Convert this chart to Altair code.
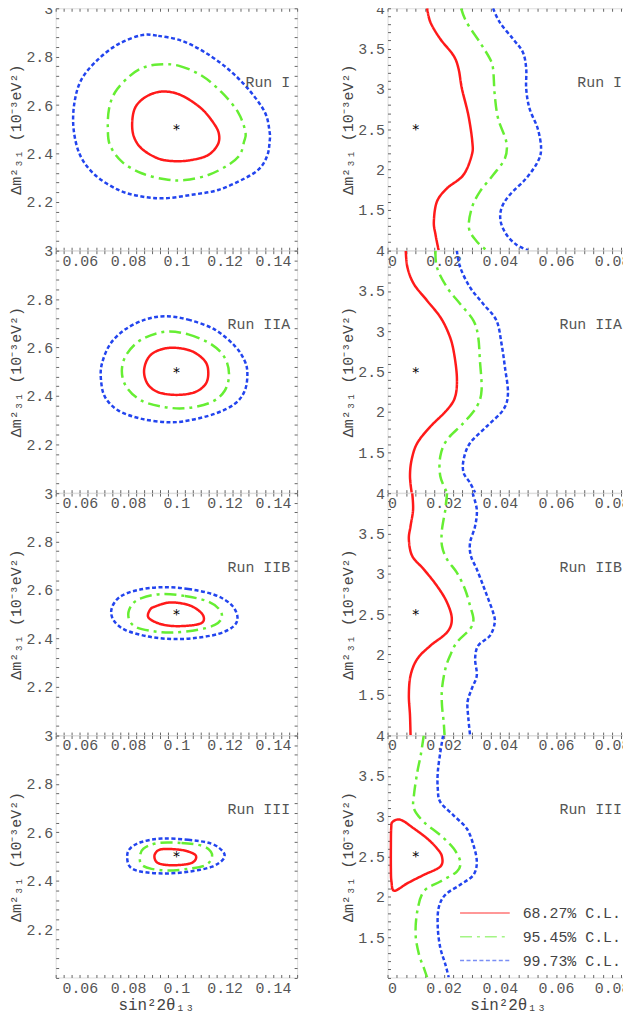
import altair as alt
import pandas as pd

FONT = "Liberation Mono"

CL = ["68.27% C.L.", "95.45% C.L.", "99.73% C.L."]
COLORS = ["#ff1a1a", "#66ee33", "#2244ee"]
DASHES = [[1, 0], [12, 5, 3, 5], [4, 2.5]]
RUNS = ["Run I", "Run IIA", "Run IIB", "Run III"]

BEST_LEFT = [(0.1, 2.5)]
BEST_RIGHT = [(0.01, 2.5)]

# tick values
LX_MAJOR = [0.06, 0.08, 0.10, 0.12, 0.14]
LY_MAJOR = [2.2, 2.4, 2.6, 2.8, 3.0]
RX_MAJOR = [0.0, 0.02, 0.04, 0.06, 0.08]
RY_MAJOR = [1.5, 2.0, 2.5, 3.0, 3.5, 4.0]

# ---- left column: sin^2 2theta13 vs dm^2_31 (closed contours)
L1_RED = [(0.0948, 2.656), (0.1021, 2.640), (0.1104, 2.585), (0.1159, 2.518), (0.1177, 2.475),
          (0.1170, 2.434), (0.1131, 2.393), (0.1063, 2.373), (0.0994, 2.368), (0.0925, 2.379),
          (0.0856, 2.420), (0.0822, 2.475), (0.0818, 2.544), (0.0835, 2.599), (0.0884, 2.640)]
L1_GREEN = [(0.0925, 2.768), (0.1008, 2.763), (0.1104, 2.722), (0.1187, 2.653), (0.1255, 2.571),
            (0.1286, 2.489), (0.1280, 2.448), (0.1262, 2.393), (0.1214, 2.352), (0.1132, 2.311),
            (0.1035, 2.290), (0.0953, 2.293), (0.0856, 2.318), (0.0774, 2.366), (0.0725, 2.434),
            (0.0716, 2.503), (0.0721, 2.585), (0.0746, 2.653), (0.0801, 2.715), (0.0856, 2.752)]
L1_BLUE = [(0.0856, 2.889), (0.0925, 2.886), (0.1021, 2.866), (0.1118, 2.818), (0.1214, 2.749),
           (0.1297, 2.667), (0.1366, 2.571), (0.1386, 2.489), (0.1386, 2.448), (0.1377, 2.393),
           (0.1345, 2.338), (0.1283, 2.297), (0.1173, 2.249), (0.1063, 2.229), (0.0953, 2.215),
           (0.0856, 2.222), (0.0760, 2.249), (0.0663, 2.311), (0.0601, 2.393), (0.0574, 2.503),
           (0.0578, 2.612), (0.0608, 2.708), (0.0677, 2.790), (0.0760, 2.852)]

L2_RED = [(0.0987, 2.599), (0.1063, 2.585), (0.1118, 2.544), (0.1132, 2.497), (0.1121, 2.449),
          (0.1076, 2.415), (0.1001, 2.404), (0.0925, 2.415), (0.0881, 2.449), (0.0866, 2.503),
          (0.0884, 2.558), (0.0925, 2.588)]
L2_GREEN = [(0.0953, 2.665), (0.1049, 2.654), (0.1145, 2.613), (0.1200, 2.558), (0.1218, 2.490),
            (0.1200, 2.421), (0.1145, 2.374), (0.1049, 2.350), (0.0953, 2.353), (0.0856, 2.380),
            (0.0794, 2.435), (0.0774, 2.503), (0.0794, 2.572), (0.0856, 2.633)]
L2_BLUE = [(0.0953, 2.729), (0.1049, 2.715), (0.1159, 2.674), (0.1242, 2.606), (0.1283, 2.544),
           (0.1294, 2.490), (0.1283, 2.421), (0.1242, 2.367), (0.1159, 2.326), (0.1049, 2.298),
           (0.0966, 2.291), (0.0856, 2.305), (0.0760, 2.339), (0.0705, 2.394), (0.0688, 2.462),
           (0.0691, 2.531), (0.0725, 2.613), (0.0787, 2.674), (0.0870, 2.715)]

L3_RED = [(0.0973, 2.548), (0.1049, 2.538), (0.1098, 2.510), (0.1114, 2.483), (0.1102, 2.462),
          (0.1049, 2.452), (0.0980, 2.451), (0.0925, 2.462), (0.0884, 2.486), (0.0890, 2.517),
          (0.0911, 2.531)]
L3_GREEN = [(0.0939, 2.583), (0.1035, 2.575), (0.1132, 2.552), (0.1180, 2.517), (0.1187, 2.483),
            (0.1159, 2.455), (0.1090, 2.435), (0.0994, 2.424), (0.0911, 2.428), (0.0829, 2.448),
            (0.0801, 2.490), (0.0815, 2.538), (0.0856, 2.566)]
L3_BLUE = [(0.0939, 2.611), (0.1049, 2.604), (0.1159, 2.579), (0.1228, 2.538), (0.1253, 2.487),
           (0.1235, 2.448), (0.1173, 2.418), (0.1076, 2.401), (0.0980, 2.397), (0.0884, 2.407),
           (0.0787, 2.435), (0.0739, 2.476), (0.0732, 2.524), (0.0767, 2.572), (0.0842, 2.600)]

L4_RED = [(0.0939, 2.530), (0.1021, 2.527), (0.1074, 2.510), (0.1080, 2.489), (0.1056, 2.471),
          (0.0994, 2.464), (0.0939, 2.468), (0.0914, 2.482), (0.0911, 2.510)]
L4_GREEN = [(0.0925, 2.556), (0.1021, 2.556), (0.1104, 2.545), (0.1143, 2.520), (0.1145, 2.490),
            (0.1118, 2.463), (0.1049, 2.449), (0.0966, 2.442), (0.0897, 2.449), (0.0856, 2.466),
            (0.0849, 2.497), (0.0863, 2.532)]
L4_BLUE = [(0.0939, 2.574), (0.1049, 2.569), (0.1145, 2.553), (0.1194, 2.519), (0.1194, 2.489),
           (0.1145, 2.457), (0.1049, 2.437), (0.0953, 2.430), (0.0856, 2.437), (0.0808, 2.457),
           (0.0796, 2.499), (0.0808, 2.533), (0.0856, 2.560)]

# ---- right column: wide dm^2 range (open contours, top to bottom)
R1_RED = [(0.0141, 4.0), (0.0153, 3.825), (0.0188, 3.619), (0.0235, 3.414), (0.0253, 3.249),
          (0.0265, 3.002), (0.0288, 2.673), (0.0302, 2.344), (0.0300, 2.179), (0.0270, 1.932),
          (0.0212, 1.768), (0.0176, 1.603), (0.0165, 1.356), (0.0171, 1.192), (0.0182, 1.0)]
R1_GREEN = [(0.0262, 4.0), (0.0282, 3.825), (0.0329, 3.578), (0.0365, 3.372), (0.0376, 3.249),
            (0.0382, 2.920), (0.0394, 2.632), (0.0423, 2.344), (0.0418, 2.138), (0.0376, 1.932),
            (0.0329, 1.726), (0.0300, 1.521), (0.0290, 1.274), (0.0318, 1.109), (0.0353, 1.0)]
R1_BLUE = [(0.0376, 4.0), (0.0400, 3.825), (0.0447, 3.619), (0.0482, 3.455), (0.0494, 3.249),
           (0.0494, 3.002), (0.0506, 2.755), (0.0535, 2.508), (0.0547, 2.261), (0.0535, 2.097),
           (0.0494, 1.891), (0.0435, 1.685), (0.0406, 1.521), (0.0403, 1.356), (0.0424, 1.192),
           (0.0459, 1.069), (0.0500, 1.0)]

R2_RED = [(0.0065, 4.0), (0.0071, 3.792), (0.0094, 3.586), (0.0141, 3.381), (0.0188, 3.176),
          (0.0218, 2.970), (0.0235, 2.765), (0.0247, 2.436), (0.0241, 2.190), (0.0212, 2.026),
          (0.0153, 1.820), (0.0106, 1.615), (0.0086, 1.410), (0.0080, 1.204), (0.0086, 1.0)]
R2_GREEN = [(0.0171, 4.0), (0.0176, 3.792), (0.0212, 3.545), (0.0259, 3.340), (0.0306, 3.134),
            (0.0323, 2.929), (0.0329, 2.642), (0.0335, 2.272), (0.0318, 2.067), (0.0270, 1.861),
            (0.0212, 1.656), (0.0188, 1.451), (0.0188, 1.204), (0.0212, 1.0)]
R2_BLUE = [(0.0247, 4.0), (0.0259, 3.792), (0.0294, 3.545), (0.0341, 3.340), (0.0388, 3.134),
           (0.0406, 2.847), (0.0418, 2.559), (0.0429, 2.231), (0.0412, 2.026), (0.0353, 1.820),
           (0.0294, 1.615), (0.0271, 1.410), (0.0271, 1.245), (0.0294, 1.122), (0.0312, 1.0)]

R3_RED = [(0.0088, 4.0), (0.0091, 3.796), (0.0082, 3.591), (0.0076, 3.426), (0.0088, 3.220),
          (0.0129, 3.056), (0.0176, 2.850), (0.0212, 2.644), (0.0229, 2.438), (0.0212, 2.274),
          (0.0153, 2.109), (0.0106, 1.944), (0.0082, 1.739), (0.0076, 1.492), (0.0080, 1.245),
          (0.0082, 1.0)]
R3_GREEN = [(0.0212, 4.0), (0.0206, 3.796), (0.0194, 3.549), (0.0194, 3.344), (0.0212, 3.179),
            (0.0247, 3.014), (0.0276, 2.809), (0.0294, 2.603), (0.0306, 2.438), (0.0294, 2.315),
            (0.0247, 2.150), (0.0223, 1.986), (0.0206, 1.821), (0.0194, 1.574), (0.0194, 1.368),
            (0.0200, 1.163), (0.0203, 1.0)]
R3_BLUE = [(0.0303, 4.0), (0.0318, 3.796), (0.0312, 3.591), (0.0294, 3.385), (0.0297, 3.220),
           (0.0318, 3.056), (0.0341, 2.850), (0.0359, 2.685), (0.0376, 2.521), (0.0382, 2.397),
           (0.0365, 2.233), (0.0323, 2.109), (0.0312, 1.944), (0.0318, 1.739), (0.0300, 1.574),
           (0.0285, 1.410), (0.0288, 1.204), (0.0294, 1.0)]

R4_RED = [(0.0018, 2.930), (0.0047, 2.955), (0.0094, 2.847), (0.0141, 2.724), (0.0176, 2.601),
          (0.0194, 2.498), (0.0188, 2.375), (0.0129, 2.272), (0.0071, 2.169), (0.0024, 2.075),
          (0.0014, 2.190), (0.0012, 2.354), (0.0012, 2.642), (0.0013, 2.847)]
R4_GREEN = [(0.0129, 4.0), (0.0118, 3.751), (0.0106, 3.545), (0.0094, 3.258), (0.0094, 3.093),
            (0.0129, 2.929), (0.0188, 2.765), (0.0235, 2.601), (0.0259, 2.436), (0.0247, 2.313),
            (0.0188, 2.190), (0.0129, 2.067), (0.0106, 1.820), (0.0100, 1.533), (0.0112, 1.286),
            (0.0129, 1.122), (0.0141, 1.0)]
R4_BLUE = [(0.0198, 4.0), (0.0188, 3.792), (0.0179, 3.545), (0.0179, 3.340), (0.0188, 3.176),
           (0.0235, 3.011), (0.0282, 2.847), (0.0306, 2.642), (0.0318, 2.436), (0.0306, 2.272),
           (0.0259, 2.149), (0.0206, 2.026), (0.0182, 1.861), (0.0179, 1.615), (0.0188, 1.368),
           (0.0206, 1.163), (0.0218, 1.0)]

PANELS = [
    ("L", RUNS[0], [L1_RED, L1_GREEN, L1_BLUE], [True, True, True]),
    ("R", RUNS[0], [R1_RED, R1_GREEN, R1_BLUE], [False, False, False]),
    ("L", RUNS[1], [L2_RED, L2_GREEN, L2_BLUE], [True, True, True]),
    ("R", RUNS[1], [R2_RED, R2_GREEN, R2_BLUE], [False, False, False]),
    ("L", RUNS[2], [L3_RED, L3_GREEN, L3_BLUE], [True, True, True]),
    ("R", RUNS[2], [R3_RED, R3_GREEN, R3_BLUE], [False, False, False]),
    ("L", RUNS[3], [L4_RED, L4_GREEN, L4_BLUE], [True, True, True]),
    ("R", RUNS[3], [R4_RED, R4_GREEN, R4_BLUE], [True, False, False]),
]

W, H = 243, 243.5
YTITLE = "Δm²₃₁ (10⁻³eV²)"
XTITLE = "sin²2θ₁₃"
TICK_COLOR = "#666"
LABEL_COLOR = "#555"


def steps(lo, hi, step):
    out, k = [], 0
    while lo + k * step <= hi + 1e-9:
        out.append(round(lo + k * step, 6))
        k += 1
    return out


SPEC = {
    "L": dict(xdom=[0.05, 0.15], ydom=[2.0, 3.0], xt=steps(0.05, 0.15, 0.02 / 6),
              yt=steps(2.0, 3.0, 0.04), xm=50, ym=5, ymin=2.01, best=BEST_LEFT, title_x=101),
    "R": dict(xdom=[0.0, 0.086], ydom=[1.0, 4.0], xt=steps(0.0, 0.086, 0.02 / 6),
              yt=steps(1.0, 4.0, 0.1), xm=50, ym=2, ymin=1.01, best=BEST_RIGHT, title_x=121),
}


def major_expr(mult, fmt, vmin=None):
    cond = f"abs(datum.value*{mult} - round(datum.value*{mult})) < 1e-4"
    if vmin is not None:
        cond += f" && datum.value > {vmin}"
    return f"{cond} ? format(datum.value, '{fmt}') : ''"


def make_panel(side, run, curves, closed, bottom, with_legend):
    s = SPEC[side]
    rows = []
    for k, (pts, c) in enumerate(zip(curves, closed)):
        for i, (x, y) in enumerate(pts):
            rows.append({"x": x, "y": y, "cl": CL[k], "i": i, "closed": c})
    df = pd.DataFrame(rows)

    xs = alt.Scale(domain=s["xdom"], nice=False, zero=False)
    ys = alt.Scale(domain=s["ydom"], nice=False, zero=False)

    x_kw = dict(
        values=s["xt"], labelExpr=major_expr(s["xm"], ".2~f"), orient="bottom",
        offset=-3, tickSize=3, domain=False, grid=False, labelOverlap=False,
        labelFont=FONT, labelFontSize=15, labelColor=LABEL_COLOR, tickColor=TICK_COLOR,
        labelPadding=3, title=XTITLE if bottom else None,
    )
    if bottom:
        x_kw.update(titleFont=FONT, titleFontSize=16, titleFontWeight="normal",
                    titleColor="#444", titleX=s["title_x"], titleY=22.5,
                    titleAlign="center", titleBaseline="top")
    x_axis = alt.Axis(**x_kw)
    y_axis = alt.Axis(
        values=s["yt"], labelExpr=major_expr(s["ym"], ".1~f", s["ymin"]), orient="left",
        offset=-3, tickSize=3, domain=False, grid=False, labelOverlap=False,
        labelFont=FONT, labelFontSize=15, labelColor=LABEL_COLOR, tickColor=TICK_COLOR,
        labelPadding=3, title=YTITLE, titleFont=FONT, titleFontSize=15,
        titleFontWeight="normal", titleColor="#444", titlePadding=2,
    )
    x_axis2 = alt.Axis(values=s["xt"], orient="top", labels=False, title=None, offset=-3,
                       tickSize=3, domain=False, grid=False, tickColor=TICK_COLOR)
    y_axis2 = alt.Axis(values=s["yt"], orient="right", labels=False, title=None, offset=-3,
                       tickSize=3, domain=False, grid=False, tickColor=TICK_COLOR)

    if with_legend:
        leg = alt.Legend(orient="none", legendX=72, legendY=171, title=None,
                         symbolType="stroke", symbolSize=2500, symbolStrokeWidth=1.5,
                         symbolOpacity=0.6, labelFont=FONT, labelFontSize=15,
                         labelColor="#444", labelOffset=12, clipHeight=15,
                         rowPadding=8, padding=0)
    else:
        leg = None
    color = alt.Color("cl:N", scale=alt.Scale(domain=CL, range=COLORS), legend=leg)
    dash = alt.StrokeDash("cl:N", scale=alt.Scale(domain=CL, range=DASHES), legend=leg)

    base = alt.Chart(df)
    layers = []
    first = True
    for flag, interp in [(True, "cardinal-closed"), (False, "cardinal")]:
        if flag not in closed:
            continue
        sub = base.transform_filter(
            "datum.closed" if flag else "!datum.closed"
        ).mark_line(interpolate=interp, strokeWidth=2.5, clip=True).encode(
            x=alt.X("x:Q", scale=xs, axis=x_axis if first else None),
            y=alt.Y("y:Q", scale=ys, axis=y_axis if first else None),
            color=color, strokeDash=dash, order=alt.Order("i:Q"),
        )
        layers.append(sub)
        first = False

    best = pd.DataFrame({"x": [p[0] for p in s["best"]], "y": [p[1] for p in s["best"]]})
    star = alt.Chart(best).mark_text(
        text="*", font="DejaVu Sans", fontSize=14, color="black", baseline="alphabetic", dy=5
    ).encode(
        x=alt.X("x:Q", scale=xs, axis=x_axis2),
        y=alt.Y("y:Q", scale=ys, axis=y_axis2),
    )
    layers.append(star)

    lab = alt.Chart(pd.DataFrame({"t": [run]})).mark_text(
        font=FONT, fontSize=15, color="#555", align="right", baseline="middle"
    ).encode(x=alt.value(236), y=alt.value(74), text="t:N")
    layers.append(lab)

    return alt.layer(*layers).properties(width=W, height=H)


panels = []
for idx, (side, run, curves, closed) in enumerate(PANELS):
    bottom = idx >= 6
    panels.append(make_panel(side, run, curves, closed, bottom, idx == 7))

chart = alt.concat(
    *panels, columns=2, spacing={"row": 0, "column": 91}, bounds="flush"
).resolve_scale(color="independent", strokeDash="independent").properties(
    padding={"top": -11, "left": 0, "right": -8, "bottom": 0}
).configure_view(stroke="#666", strokeWidth=1).configure(background="white")

chart.save("out.html", embed_options={"renderer": "svg", "actions": False})
